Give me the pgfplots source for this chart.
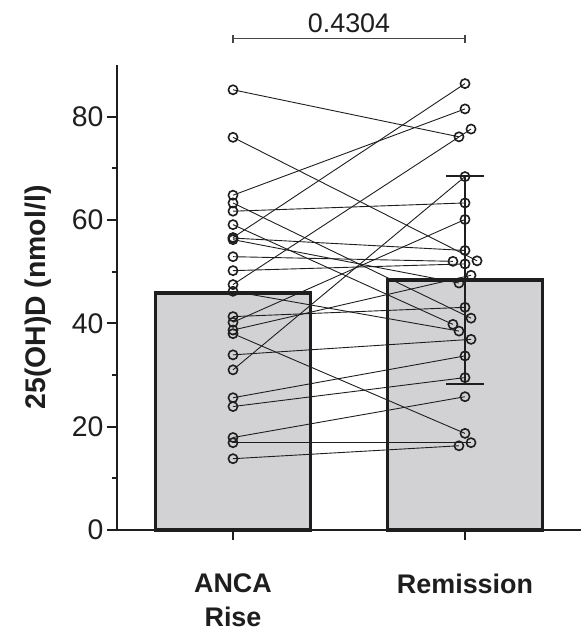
\documentclass[border=0pt]{standalone}
\usepackage{fontspec}
\setmainfont{Liberation Sans}
\usepackage{pgfplots}
\usepackage{pgfplotstable}
\pgfplotsset{compat=1.18}

\definecolor{barfill}{RGB}{210,210,212}
\definecolor{ink}{RGB}{30,30,30}
\definecolor{bracket}{RGB}{70,70,70}

% paired values: at ANCA rise, at remission, horizontal jitter of the remission point
\pgfplotstableread{
rise remission xr
85.2 76.1 -0.026
76.0 52.1 0.052
64.8 81.5 0
63.3 41.0 0.026
61.7 63.3 0
59.1 39.8 -0.052
56.6 86.4 0
56.5 54.1 0
56.2 47.8 -0.026
52.9 52.0 -0.052
50.2 51.5 0
47.5 77.6 0.026
46.2 38.5 -0.026
41.3 43.1 0
40.2 60.1 0
38.7 49.3 0.026
38.0 18.7 0
33.9 36.9 0.026
31.0 68.4 0
25.6 33.7 0
23.9 29.5 0
17.9 25.8 0
16.9 16.9 0.026
13.8 16.3 -0.026
}\pairs

\begin{document}
\begin{tikzpicture}
\begin{axis}[
  name=ax,
  scale only axis, width=464bp, height=465bp,
  xmin=-0.5, xmax=1.5, ymin=0, ymax=90,
  enlargelimits=false, clip=false,
  axis lines*=left,
  axis line style={line width=2bp, ink},
  xtick={0,1},
  xticklabels={{ANCA\\Rise},{Remission}},
  ytick={0,20,...,80}, minor ytick={10,30,50,70},
  tick align=outside,
  major tick length=10bp, minor tick length=5bp,
  tick style={line width=2bp, ink},
  /pgf/number format/assume math mode=true,
  yticklabel style={font=\fontsize{28.5}{30}\selectfont, text=ink},
  xticklabel style={font=\fontsize{27}{34}\selectfont\bfseries, text=ink, align=center, yshift=-30bp},
  ylabel={25(OH)D (nmol/l)},
  ylabel style={font=\fontsize{28.5}{30}\selectfont\bfseries, text=ink},
  ylabel shift=14bp,
]

% bars (means)
\addplot[ybar, bar width=0.668, bar shift=0, fill=barfill, draw=ink, line width=3.8bp]
  coordinates {(0,45.8) (1,48.4)};

% lines joining each patient's two values
\addplot[quiver={u={\thisrow{xr}+1}, v={\thisrow{remission}-\thisrow{rise}}},
  -, mark=none, line width=0.9bp, ink]
  table[x expr=0, y=rise] {\pairs};

% individual values
\addplot[only marks, mark=o, mark size=4.6bp, mark options={line width=1.6bp, ink}]
  table[x expr=0, y=rise] {\pairs};
\addplot[only marks, mark=o, mark size=4.6bp, mark options={line width=1.6bp, ink}]
  table[x expr=\thisrow{xr}+1, y=remission] {\pairs};

% SD of the remission group
\addplot[draw=none, mark=none,
  error bars/.cd, y dir=both, y explicit,
  error bar style={line width=2.5bp, ink},
  error mark options={rotate=90, mark size=19bp, line width=2.5bp, ink}]
  coordinates {(1,48.4) +- (0,20.1)};

% comparison bracket
\addplot[line width=1.4bp, bracket, mark=|, mark size=4bp, mark options={line width=1.4bp}]
  coordinates {(0,95.1) (1,95.1)}
  node[pos=0.5, above=2bp, font=\fontsize{27}{30}\selectfont, text=ink] {0.4304};

\end{axis}
\pgfresetboundingbox
\path ([shift={(-117bp,-105bp)}]ax.south west) rectangle ([shift={(5bp,65bp)}]ax.north east);
\end{tikzpicture}
\end{document}
